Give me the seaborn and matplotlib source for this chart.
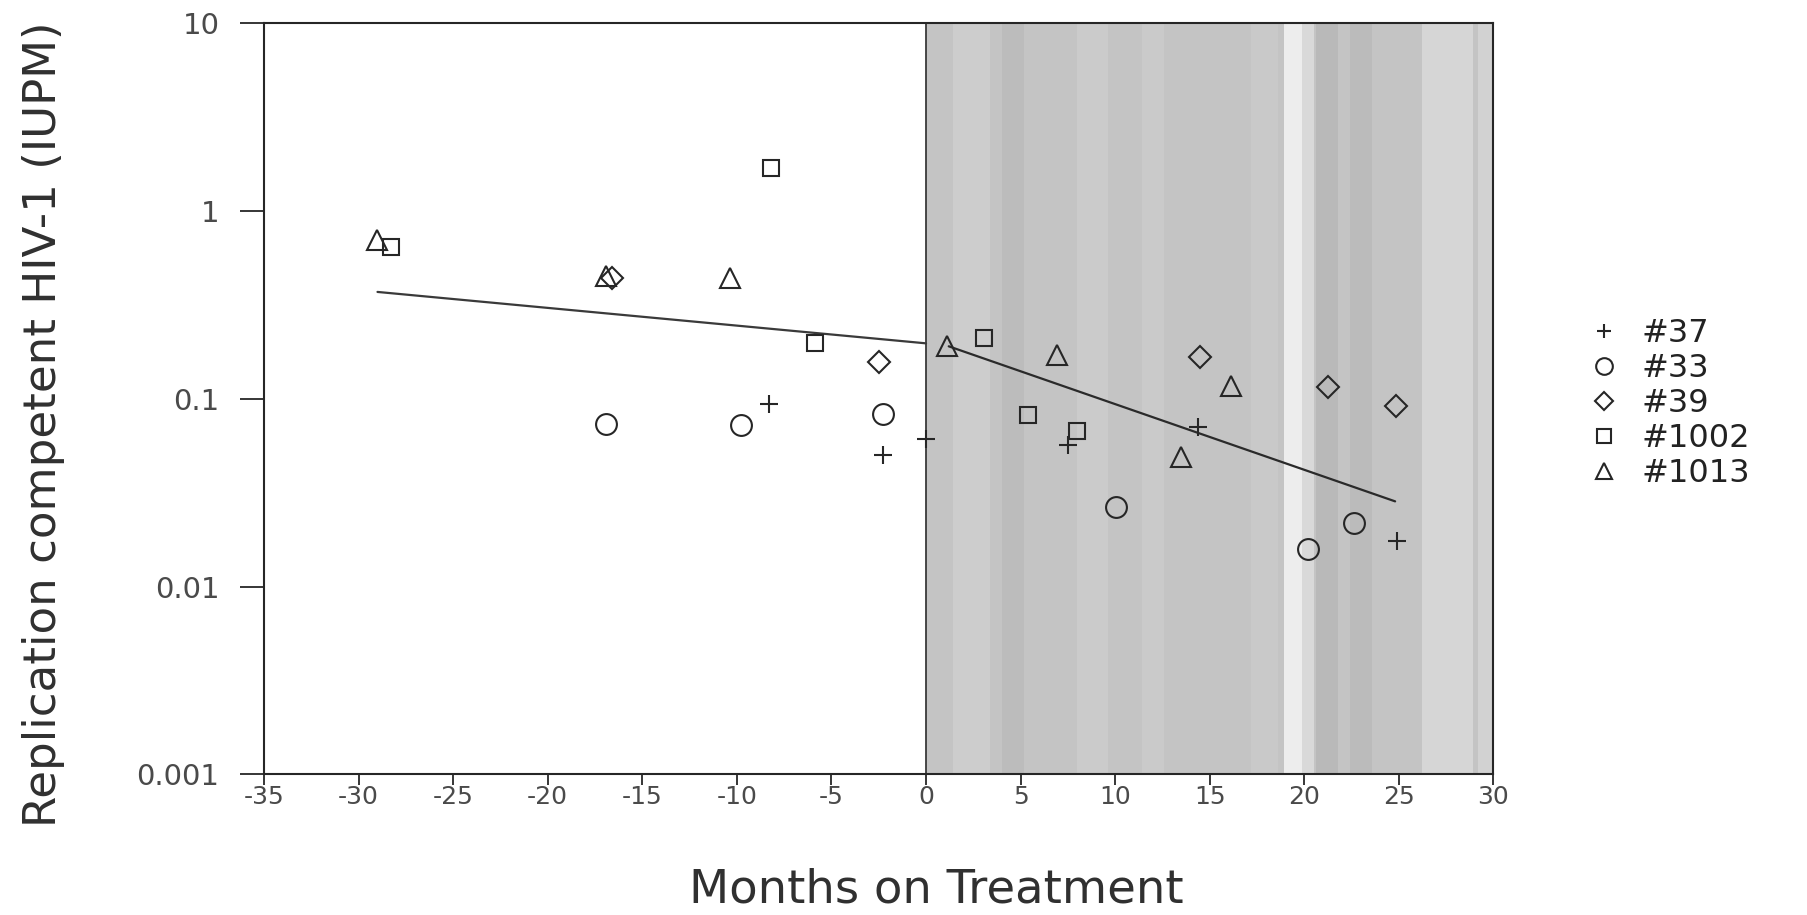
import numpy as np
import pandas as pd
import matplotlib
matplotlib.use("Agg")
import matplotlib.pyplot as plt
import seaborn as sns

# ---------------- data ----------------
subjects = ["#37", "#33", "#39", "#1002", "#1013"]

p37_x = [-8.3, -2.3, 0.0, 7.5, 14.4, 24.9]
p37_y = [0.094, 0.050, 0.061, 0.057, 0.071, 0.0174]

p33_x = [-16.9, -9.8, -2.3, 10.05, 20.2, 22.65]
p33_y = [0.073, 0.072, 0.083, 0.0265, 0.0159, 0.0217]

p39_x = [-16.6, -2.5, 14.5, 21.25, 24.85]
p39_y = [0.44, 0.157, 0.166, 0.115, 0.091]

p1002_x = [-28.3, -8.2, -5.85, 3.05, 5.4, 8.0]
p1002_y = [0.645, 1.69, 0.197, 0.21, 0.082, 0.067]

p1013_x = [-29.0, -16.9, -10.35, 1.1, 6.9, 13.5, 16.1]
p1013_y = [0.70, 0.45, 0.44, 0.19, 0.17, 0.049, 0.117]

fit_pre_x = [-29.0, 0.0]
fit_pre_y = [0.37, 0.197]
fit_post_x = [1.2, 24.8]
fit_post_y = [0.19, 0.0284]

xticks = list(range(-35, 31, 5))
yticks = [0.001, 0.01, 0.1, 1, 10]
ytick_labels = ["0.001", "0.01", "0.1", "1", "10"]

xlabel = "Months on Treatment"
ylabel = "Replication competent HIV-1 (IUPM)"

# ---------------- styling ----------------
sns.set_theme(style="ticks")
plt.rcParams['font.family'] = ['DejaVu Sans']
plt.rcParams['axes.unicode_minus'] = False

ink = '#262626'
tick_ink = '#4a4a4a'

fig = plt.figure(figsize=(18.07, 9.15), dpi=100)
fig.patch.set_facecolor('white')
ax = fig.add_axes([0.1461, 0.1537, 0.6804, 0.8212])
ax.set_facecolor('white')
ax.set_yscale('log')
ax.set_xlim(-35, 30)
ax.set_ylim(0.001, 10)

# shaded "on treatment" region with soft scan-like vertical banding
ax.axvspan(0, 30, color='#c4c4c4', lw=0, zorder=0)
bands = [(1.4, 3.4, '#cdcdcd'), (4.0, 5.2, '#bcbcbc'), (8.0, 9.6, '#cbcbcb'),
         (11.4, 12.6, '#cacaca'), (17.2, 18.6, '#c9c9c9'), (18.9, 19.9, '#ededed'),
         (19.9, 20.5, '#d9d9d9'), (20.6, 21.8, '#b9b9b9'), (22.4, 23.6, '#bbbbbb'),
         (26.2, 28.9, '#d6d6d6'), (29.2, 30.0, '#d2d2d2')]
for a, b, c in bands:
    ax.axvspan(a, b, color=c, lw=0, zorder=0.5)
ax.axvline(0, color='#3a3a3a', lw=1.3, zorder=1)

series = [("#37", p37_x, p37_y, '+', 13),
          ("#33", p33_x, p33_y, 'o', 15),
          ("#39", p39_x, p39_y, 'D', 11.5),
          ("#1002", p1002_x, p1002_y, 's', 12),
          ("#1013", p1013_x, p1013_y, '^', 15)]

for name, xs, ys, m, ms in series:
    df = pd.DataFrame({"months": xs, "iupm": ys})
    sns.lineplot(data=df, x="months", y="iupm", ax=ax, estimator=None, sort=False,
                 linestyle='none', marker=m, markersize=ms, markerfacecolor='none',
                 markeredgecolor=ink, markeredgewidth=1.5, color=ink, label=name,
                 zorder=3)

sns.lineplot(x=fit_pre_x, y=fit_pre_y, ax=ax, color='#3a3a3a', lw=1.6,
             estimator=None, label='_nolegend_', zorder=2)
sns.lineplot(x=fit_post_x, y=fit_post_y, ax=ax, color='#2a2a2a', lw=1.6,
             estimator=None, label='_nolegend_', zorder=2)

handles, labels = ax.get_legend_handles_labels()
if ax.get_legend() is not None:
    ax.get_legend().remove()

ax.set_xticks(xticks)
ax.set_xticklabels([str(t) for t in xticks])
ax.set_yticks(yticks)
ax.set_yticklabels(ytick_labels)
ax.minorticks_off()
ax.tick_params(axis='y', length=17, width=1.3, pad=15, labelsize=21,
               color=ink, labelcolor=tick_ink)
ax.tick_params(axis='x', length=8, width=1.3, pad=0, labelsize=18,
               color=ink, labelcolor=tick_ink)
for s in ax.spines.values():
    s.set_visible(True)
    s.set_linewidth(1.5)
    s.set_color(ink)

ax.set_xlabel(xlabel, fontsize=33.5, color='#303030')
ax.xaxis.label.set_va('center')
ax.xaxis.set_label_coords(0.5466, -0.1535)
ax.set_ylabel(ylabel, fontsize=32.5, color='#303030')
ax.yaxis.label.set_va('center')
ax.yaxis.set_label_coords(-0.1797, 0.4663)

fig.legend(handles, labels, loc='upper left', bbox_to_anchor=(0.8788, 0.652),
           frameon=False, fontsize=23, handlelength=1.0, handletextpad=0.69,
           labelspacing=0.12, borderaxespad=0, borderpad=0, markerscale=0.8,
           labelcolor='#222222')

fig.savefig("out.png", dpi=100, facecolor='white')
